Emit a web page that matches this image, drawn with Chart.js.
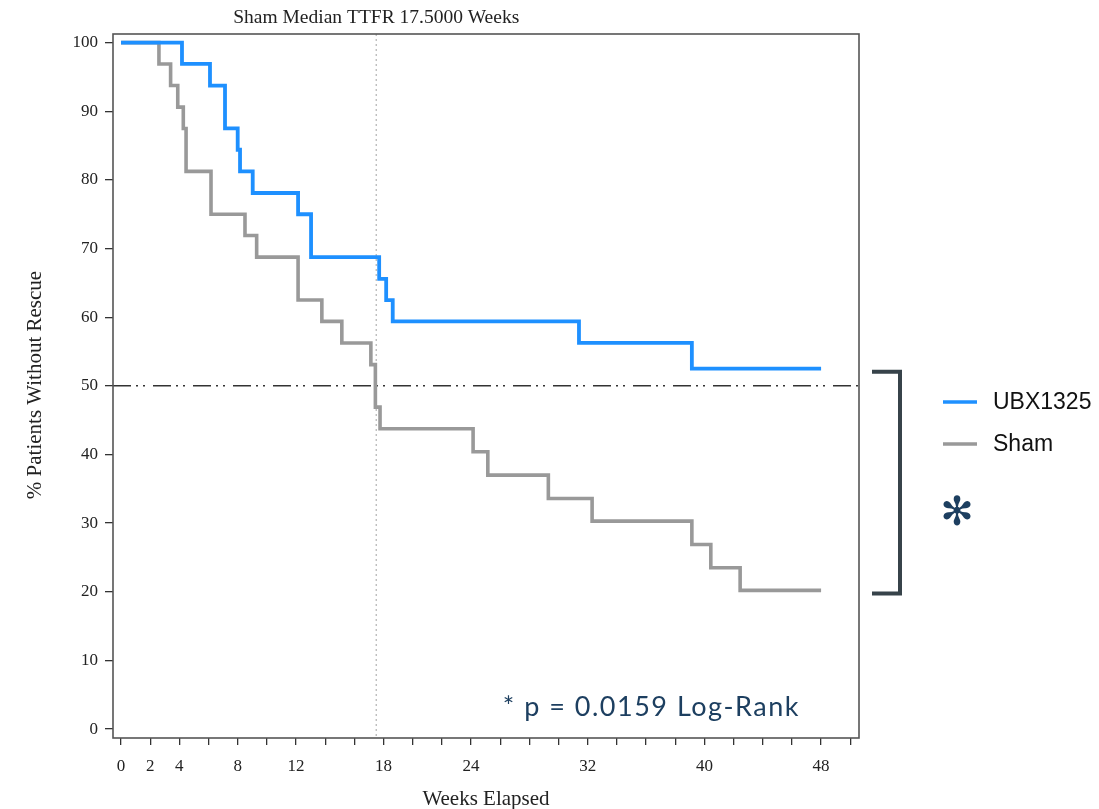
<!DOCTYPE html>
<html>
<head>
<meta charset="utf-8">
<script src="https://cdn.jsdelivr.net/npm/chart.js@4/dist/chart.umd.min.js"></script>
<style>
  html, body { margin: 0; padding: 0; background: #fff; }
  #wrap { width: 1099px; height: 809px; }
</style>
</head>
<body>
<div id="wrap"><canvas id="km" width="1099" height="809"></canvas></div>
<script>
// Kaplan-Meier step points: week of event and % without rescue after it
const ubxWeeks = [0, 4.18, 6.1, 7.13, 8.0, 8.16, 9.03, 12.14, 13.03, 17.7, 18.18, 18.63, 31.4, 39.14, 48];
const ubxSurv  = [100, 96.9, 93.75, 87.5, 84.4, 81.25, 78.1, 75.0, 68.75, 65.6, 62.5, 59.4, 56.25, 52.5, 52.5];

const shamWeeks = [0, 2.6, 3.4, 3.89, 4.27, 4.46, 6.17, 8.5, 9.3, 12.14, 13.77, 15.14, 17.13, 17.44, 17.76, 24.14, 25.15, 29.3, 32.3, 39.14, 40.44, 42.45, 48];
const shamSurv  = [100, 96.9, 93.75, 90.6, 87.5, 81.25, 75.0, 71.9, 68.75, 62.5, 59.4, 56.25, 53.1, 46.9, 43.75, 40.4, 37.0, 33.6, 30.3, 26.9, 23.5, 20.2, 20.2];

const seriesNames = ['UBX1325', 'Sham'];
const xLabelWeeks = [0, 2, 4, 8, 12, 18, 24, 32, 40, 48];
const yTicks = [0, 10, 20, 30, 40, 50, 60, 70, 80, 90, 100];
const medianWeek = 17.5;
const halfLine = 50;

const serif = '"Liberation Serif", "Times New Roman", serif';

function pts(xs, ys) {
  return xs.map((x, i) => ({ x: x, y: ys[i] }));
}

const extras = {
  id: 'extras',
  beforeDatasetsDraw(chart) {
    const { ctx, chartArea: a, scales } = chart;
    ctx.save();
    // vertical dotted line at the Sham median
    const mx = scales.x.getPixelForValue(medianWeek);
    ctx.strokeStyle = '#b8b8b8';
    ctx.lineWidth = 1.3;
    ctx.setLineDash([2, 3]);
    ctx.beginPath(); ctx.moveTo(mx, a.top); ctx.lineTo(mx, a.bottom); ctx.stroke();
    // dash-dot-dot line at 50%
    const hy = scales.y.getPixelForValue(halfLine);
    ctx.strokeStyle = '#333';
    ctx.lineWidth = 1.5;
    ctx.setLineDash([18, 5, 2, 5, 2, 8]);
    ctx.beginPath(); ctx.moveTo(a.left, hy); ctx.lineTo(a.right, hy); ctx.stroke();
    ctx.restore();
  },
  afterDraw(chart) {
    const { ctx, chartArea: a, scales } = chart;
    ctx.save();
    // plot frame
    ctx.strokeStyle = '#555';
    ctx.lineWidth = 1.6;
    ctx.strokeRect(a.left, a.top, a.right - a.left, a.bottom - a.top);

    // title above the median line
    const mx = scales.x.getPixelForValue(medianWeek);
    ctx.fillStyle = '#222';
    ctx.font = '19.5px ' + serif;
    ctx.textAlign = 'center';
    ctx.textBaseline = 'middle';
    ctx.fillText('Sham Median TTFR 17.5000 Weeks', mx, 18);

    // axis titles
    ctx.font = '21px ' + serif;
    ctx.fillText('Weeks Elapsed', 486, 799);
    ctx.save();
    ctx.translate(35, 385);
    ctx.rotate(-Math.PI / 2);
    ctx.fillText('% Patients Without Rescue', 0, 0);
    ctx.restore();

    // p-value note
    ctx.fillStyle = '#1d3f60';
    ctx.font = '27px Lato, "Noto Sans", sans-serif';
    ctx.letterSpacing = '1.5px';
    ctx.textAlign = 'right';
    ctx.fillText('* p = 0.0159 Log-Rank', 800, 707);
    ctx.letterSpacing = '0px';

    // bracket joining the two end values
    const ds = chart.data.datasets;
    const yTop = scales.y.getPixelForValue(ds[0].data[ds[0].data.length - 1].y) + 3;
    const yBot = scales.y.getPixelForValue(ds[1].data[ds[1].data.length - 1].y) + 3;
    ctx.strokeStyle = '#37434a';
    ctx.lineWidth = 4;
    ctx.lineJoin = 'miter';
    ctx.beginPath();
    ctx.moveTo(872, yTop); ctx.lineTo(900, yTop); ctx.lineTo(900, yBot); ctx.lineTo(872, yBot);
    ctx.stroke();

    // legend
    ctx.font = '23px "Liberation Sans", Arial, sans-serif';
    ctx.textAlign = 'left';
    ds.forEach((d, i) => {
      const ly = 402 + i * 42;
      ctx.strokeStyle = d.borderColor;
      ctx.lineWidth = 3.5;
      ctx.beginPath(); ctx.moveTo(943, ly); ctx.lineTo(977, ly); ctx.stroke();
      ctx.fillStyle = '#111';
      ctx.fillText(d.label, 993, ly + 1);
    });

    // significance mark
    ctx.fillStyle = '#1d3f60';
    ctx.font = 'bold 40px "DejaVu Sans", sans-serif';
    ctx.textAlign = 'center';
    ctx.fillText('\u273B', 957, 515);
    ctx.restore();
  }
};

new Chart(document.getElementById('km'), {
  type: 'line',
  data: {
    datasets: [{
      label: seriesNames[0],
      data: pts(ubxWeeks, ubxSurv),
      borderColor: '#1e90ff',
      borderWidth: 3.8,
      stepped: 'before',
      pointRadius: 0,
      fill: false
    }, {
      label: seriesNames[1],
      data: pts(shamWeeks, shamSurv),
      borderColor: '#999999',
      borderWidth: 3.6,
      stepped: 'before',
      pointRadius: 0,
      fill: false
    }]
  },
  options: {
    responsive: false,
    animation: false,
    layout: { padding: { left: 0, right: 240, top: 34, bottom: 0 } },
    plugins: { legend: { display: false }, tooltip: { enabled: false } },
    scales: {
      x: {
        type: 'linear',
        min: -0.55,
        max: 50.6,
        afterBuildTicks: s => { s.ticks = []; for (let w = 0; w <= 50; w += 2) s.ticks.push({ value: w }); },
        afterFit: s => { s.height = 71; },
        ticks: {
          autoSkip: false,
          maxRotation: 0,
          padding: 11,
          color: '#222',
          font: { family: serif, size: 17 },
          callback: v => xLabelWeeks.includes(v) ? String(v) : ''
        },
        grid: { drawOnChartArea: false, drawTicks: true, tickLength: 7, color: '#333', lineWidth: 1.3 },
        border: { display: false }
      },
      y: {
        min: -1.3,
        max: 101.26,
        afterBuildTicks: s => { s.ticks = yTicks.map(v => ({ value: v })); },
        afterFit: s => { s.width = 113; },
        ticks: {
          padding: 7,
          color: '#222',
          font: { family: serif, size: 17 }
        },
        grid: { drawOnChartArea: false, drawTicks: true, tickLength: 8, color: '#333', lineWidth: 1.3 },
        border: { display: false }
      }
    }
  },
  plugins: [extras]
});
</script>
</body>
</html>
